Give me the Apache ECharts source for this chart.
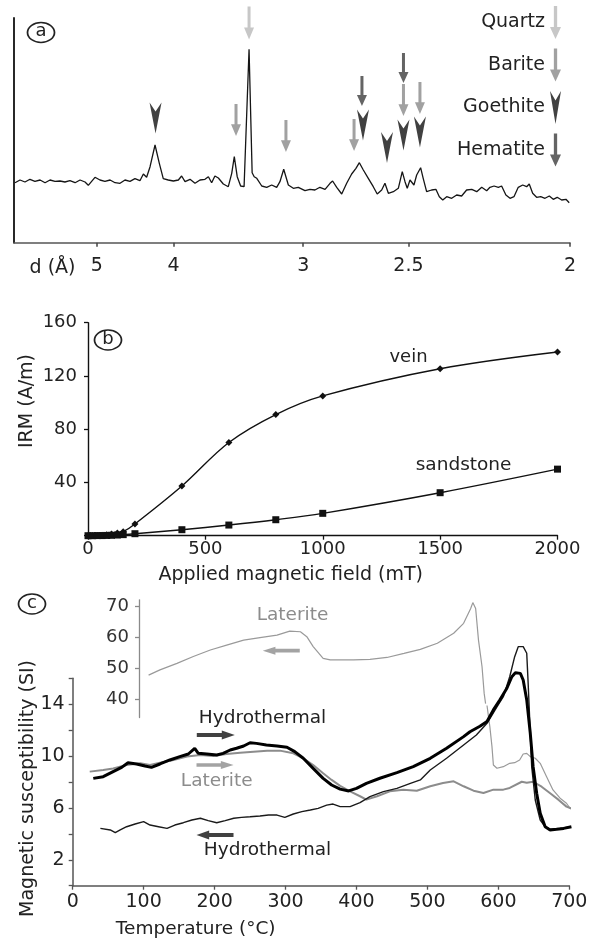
<!DOCTYPE html>
<html><head><meta charset="utf-8">
<script src="https://cdn.jsdelivr.net/npm/echarts@6/dist/echarts.min.js"></script>
<style>html,body{margin:0;padding:0;background:#fff}#c{width:594px;height:943px}</style>
</head><body><div id="c"></div>
<script>
// ---------------- (a) XRD pattern (x in 2-theta, Cu K-alpha; labels in d-spacing) ----------------
const xrdTwoTheta = [12.96,13.25,13.54,13.83,14.12,14.42,14.71,15.00,15.29,15.58,15.87,16.16,16.46,16.75,17.04,17.23,17.62,17.91,18.20,18.50,18.79,19.08,19.37,19.66,19.95,20.24,20.44,20.63,20.83,21.12,21.37,21.60,21.89,22.19,22.48,22.67,22.87,23.16,23.45,23.74,24.03,24.23,24.42,24.61,24.81,25.10,25.39,25.59,25.74,25.91,26.11,26.31,26.60,26.78,26.90,27.05,27.34,27.63,27.92,28.21,28.40,28.62,28.89,29.18,29.47,29.57,29.86,30.15,30.44,30.73,31.03,31.32,31.47,31.71,32.00,32.29,32.58,32.83,33.03,33.26,33.55,33.84,34.07,34.33,34.52,34.72,35.01,35.30,35.53,35.69,35.82,35.98,36.21,36.37,36.60,36.75,36.95,37.24,37.49,37.69,37.89,38.12,38.41,38.70,38.99,39.28,39.58,39.87,40.16,40.45,40.64,40.88,41.13,41.32,41.57,41.81,42.04,42.29,42.55,42.78,42.93,43.13,43.36,43.60,43.85,44.10,44.33,44.56,44.82,45.07,45.26];
const xrdCounts = [60.0,62.7,60.7,63.4,61.4,62.7,60.0,62.7,61.4,61.7,60.7,62.0,60.0,62.7,60.7,57.4,65.4,62.7,61.4,62.7,60.0,59.4,62.7,61.4,64.0,62.0,68.7,65.4,76.0,97.7,79.4,64.0,62.7,61.7,62.7,66.7,61.0,63.4,59.4,62.7,63.4,66.0,60.0,66.7,64.7,58.7,56.0,69.4,86.0,66.0,56.7,56.0,193.4,70.0,66.0,64.4,56.7,55.4,57.7,55.4,61.0,73.4,57.7,54.4,55.4,54.4,52.0,53.4,52.7,55.4,53.4,59.4,61.7,55.4,48.7,59.4,68.7,74.4,80.0,72.7,64.4,56.0,48.7,52.7,59.4,49.4,51.0,54.4,71.0,61.0,54.4,62.7,57.7,67.7,75.0,64.4,51.0,52.7,53.4,46.0,42.7,46.0,44.4,47.7,46.7,52.7,53.4,51.0,55.4,52.0,55.4,56.7,55.4,56.7,47.7,44.4,46.0,55.4,57.7,56.0,58.7,49.4,45.4,46.0,44.4,46.7,43.4,45.4,42.7,43.4,40.0];
const dSpacingTicks = [5, 4, 3, 2.5, 2];
const cuKalpha = 1.5406;
// peak markers [2theta, marker height (counts)]
const quartzMarks   = [[26.60, 219.7]];
const bariteMarks   = [[25.84, 122.7], [28.75, 106.7], [32.72, 107.7], [35.60, 142.7], [36.56, 144.7]];
const goethiteMarks = [[21.15, 124.7], [33.24, 117.7], [34.64, 95.2], [35.60, 107.7], [36.56, 110.7]];
const hematiteMarks = [[33.18, 151.7], [35.60, 174.7]];

// ---------------- (b) IRM acquisition ----------------
const fieldMT      = [0, 20, 40, 60, 80, 100, 125, 150, 200, 400, 600, 800, 1000, 1500, 2000];
const veinIRM      = [0, 0.1, 0.2, 0.4, 0.7, 1.2, 2.0, 3.0, 8.8, 37.3, 70, 91, 105, 125.4, 138];
const sandstoneIRM = [0, 0, 0.1, 0.1, 0.2, 0.3, 0.5, 0.8, 1.5, 4.5, 8.0, 12.0, 16.8, 32.3, 50];

// ---------------- (c) susceptibility vs temperature ----------------
const hydroHeatT = [29,43,57,69,78,90,102,111,123,137,151,163,172,177,189,203,212,222,231,241,250,259,273,288,302,313,325,339,353,365,377,389,400,414,433,457,480,504,527,551,560,574,584,593,602,612,619,624,631,635,640,645,649,654,659,666,673,682,692,703];
const hydroHeatV = [8.28,8.41,8.80,9.13,9.49,9.39,9.23,9.13,9.39,9.70,9.96,10.16,10.60,10.21,10.16,10.08,10.21,10.47,10.60,10.78,11.03,10.98,10.86,10.78,10.68,10.34,9.83,9.05,8.28,7.77,7.45,7.31,7.51,7.90,8.29,8.72,9.19,9.83,10.60,11.50,11.88,12.30,12.66,13.56,14.33,15.23,16.12,16.43,16.38,15.87,14.33,11.76,9.18,7.13,5.58,4.55,4.30,4.35,4.42,4.55];
const hydroCoolT = [39,53,60,67,76,88,100,109,121,133,144,156,168,180,191,203,215,227,238,250,264,276,288,299,311,323,335,346,358,367,377,391,405,419,438,457,476,490,504,527,551,569,584,598,607,616,623,628,635,640,642,645,647,652,659,666,673,687,703];
const hydroCoolV = [4.42,4.30,4.09,4.30,4.55,4.76,4.94,4.68,4.55,4.42,4.68,4.86,5.07,5.20,5.02,4.86,5.02,5.20,5.27,5.32,5.38,5.45,5.45,5.27,5.53,5.71,5.84,5.97,6.22,6.30,6.10,6.10,6.41,6.87,7.26,7.51,7.90,8.16,8.93,9.83,10.86,11.63,12.53,13.80,14.58,16.12,17.67,18.44,18.44,17.93,15.61,11.76,9.18,6.61,5.07,4.55,4.35,4.42,4.55];
const latHeatT = [24,43,57,76,95,109,123,142,161,180,198,217,236,255,274,292,311,325,339,353,365,377,391,405,414,429,447,466,485,504,522,537,551,565,579,593,607,616,633,640,649,661,673,685,696,703];
const latHeatV = [8.80,8.92,9.05,9.31,9.44,9.31,9.49,9.70,9.96,10.08,10.00,10.16,10.26,10.34,10.42,10.42,10.21,9.83,9.31,8.67,8.16,7.70,7.28,6.90,6.64,6.90,7.28,7.41,7.33,7.67,7.92,8.05,7.67,7.33,7.15,7.41,7.41,7.54,8.02,7.95,8.02,7.64,7.13,6.62,6.10,5.95];
// laterite cooling: upper part on the inset scale, lower part on the main scale
const latCoolInsetT = [107,123,147,170,194,217,241,264,288,306,321,330,339,353,363,377,396,419,443,467,490,514,537,551,561,564,568,572,577,580,582];
const latCoolInsetV = [47.7,49.4,51.5,53.7,55.8,57.4,59.0,59.8,60.6,61.9,61.7,60.1,56.9,53.1,52.6,52.6,52.6,52.8,53.4,54.7,56.0,58.0,61.2,64.4,69.2,71.1,69.2,59.0,50.4,41.8,38.5];
const latCoolMainT = [584,588,591,593,598,607,616,623,630,635,640,645,652,659,668,677,687,696,701];
const latCoolMainV = [13.9,12.27,10.73,9.31,9.06,9.18,9.44,9.49,9.70,10.16,10.21,9.96,9.83,9.44,8.41,7.39,6.75,6.36,5.97];
// direction-arrow anchors [T, value]
const arrowHydroHeat = [[201.7, 11.63]];
const arrowLatHeat   = [[200.6, 9.31]];
const arrowHydroCool = [[200.6, 3.92]];
const arrowLatCool   = [[294, 55.6]];

const mainTicks = [2, 6, 10, 14];
const insetTicks = [40, 50, 60, 70];

// ---------------------------------------------------------------------------
const FONT = '"DejaVu Sans", Verdana, sans-serif';
const zip = (a, b) => a.map((v, i) => [v, b[i]]);
const twoThetaOf = d => 2 * Math.asin(cuKalpha / (2 * d)) * 180 / Math.PI;
const dTickPos = dSpacingTicks.map(twoThetaOf);
const xrdMax = Math.max.apply(null, dTickPos);

const ARROW_DOWN = 'path://M3.5,0 L6.5,0 L6.5,21 L10,21 L5,33 L0,21 L3.5,21 Z';
const DART_DOWN  = 'path://M0,0 L5.5,9 L11,0 L5.5,31 Z';
const ARROW_RIGHT = 'path://M0,2.5 L25,2.5 L25,0 L38,4.5 L25,9 L25,6.5 L0,6.5 Z';
const ARROW_LEFT  = 'path://M38,2.5 L13,2.5 L13,0 L0,4.5 L13,9 L13,6.5 L38,6.5 Z';

const C_QUARTZ = '#b9b9b9', C_BARITE = '#8a8a8a', C_GOETHITE = '#111111', C_HEMATITE = '#3d3d3d';
const C_GREY_TEXT = '#8c8c8c';

const chart = echarts.init(document.getElementById('c'), null, {renderer: 'canvas', width: 594, height: 943});

function lbl(size, extra) { return Object.assign({fontSize: size, fontFamily: FONT, color: '#222'}, extra || {}); }

function txt(x, y, text, size, color, rot) {
  return {type: 'text', x: x, y: y, rotation: rot || 0, silent: true,
    style: {text: text, fontSize: size, fontFamily: FONT, fill: color || '#222',
      align: 'center', verticalAlign: 'middle', textAlign: 'center', textVerticalAlign: 'middle'}};
}
function circled(x, y, letter) {
  return [
    {type: 'circle', x: x, y: y, scaleX: 1.35, shape: {cx: 0, cy: 0, r: 10}, silent: true,
      style: {fill: 'none', stroke: '#222', lineWidth: 1.3}},
    txt(x, y - 1, letter, 18, '#222')
  ];
}

const option = {
  animation: false,
  backgroundColor: '#fff',
  grid: [
    {left: 14, top: 18, width: 556, height: 224.7, outerBoundsMode: 'none'},
    {left: 88, top: 322.7, width: 469.5, height: 213, outerBoundsMode: 'none'},
    {left: 72.7, top: 678.3, width: 496.6, height: 207.4, outerBoundsMode: 'none'},
    {left: 139, top: 599.8, width: 430.3, height: 117.8, outerBoundsMode: 'none'}
  ],
  legend: {
    data: [
      {name: 'Quartz', icon: ARROW_DOWN},
      {name: 'Barite', icon: ARROW_DOWN},
      {name: 'Goethite', icon: DART_DOWN},
      {name: 'Hematite', icon: ARROW_DOWN}
    ],
    orient: 'vertical', align: 'right', right: 33, top: 6, padding: 0,
    itemWidth: 11, itemHeight: 33, itemGap: 9.5, selectedMode: false, symbolKeepAspect: false,
    textStyle: {fontSize: 19, fontFamily: FONT, color: '#222', padding: [0, 0, 0, 0]}
  },
  xAxis: [
    {gridIndex: 0, type: 'value', min: 12.90, max: xrdMax,
      axisLine: {show: true, lineStyle: {color: '#555', width: 1.5}},
      axisTick: {show: true, customValues: dTickPos, length: 4, lineStyle: {color: '#444', width: 1.5}},
      axisLabel: lbl(19, {customValues: dTickPos, margin: 14, showMaxLabel: true,
        formatter: v => { const i = dTickPos.findIndex(p => Math.abs(p - v) < 0.01); return i >= 0 ? String(dSpacingTicks[i]) : ''; }}),
      splitLine: {show: false}},
    {gridIndex: 1, type: 'value', min: 0, max: 2000, interval: 500,
      axisLine: {show: true, onZero: false, lineStyle: {color: '#111', width: 1.4}},
      axisTick: {show: true, length: 4, lineStyle: {color: '#111', width: 1.3}},
      axisLabel: lbl(18, {margin: 5, formatter: v => String(v)}), splitLine: {show: false}},
    {gridIndex: 2, type: 'value', min: 0, max: 700, interval: 100,
      axisLine: {show: true, onZero: false, lineStyle: {color: '#555', width: 1.5}},
      axisTick: {show: true, length: 4, lineStyle: {color: '#555', width: 1.3}},
      axisLabel: lbl(19, {margin: 7, formatter: v => String(v)}), splitLine: {show: false}},
    {gridIndex: 3, type: 'value', min: 93.46, max: 700, show: false}
  ],
  yAxis: [
    {gridIndex: 0, type: 'value', min: 0, max: 224.7,
      axisLine: {show: true, lineStyle: {color: '#111', width: 1.8}},
      axisTick: {show: false}, axisLabel: {show: false}, splitLine: {show: false}},
    {gridIndex: 1, type: 'value', min: 0, max: 160, interval: 40,
      axisLine: {show: true, onZero: false, lineStyle: {color: '#111', width: 1.4}},
      axisTick: {show: true, length: 4, lineStyle: {color: '#111', width: 1.3}},
      axisLabel: lbl(18, {margin: 11, formatter: v => v === 0 ? '' : String(v)}), splitLine: {show: false}},
    {gridIndex: 2, type: 'value', min: 0, max: 16, interval: 2,
      axisLine: {show: true, onZero: false, lineStyle: {color: '#555', width: 1.5}},
      axisTick: {show: true, length: 4, lineStyle: {color: '#555', width: 1.3}},
      axisLabel: lbl(19, {margin: 8, formatter: v => mainTicks.indexOf(v) >= 0 ? String(v) : ''}), splitLine: {show: false}},
    {gridIndex: 3, type: 'value', min: 34, max: 72,
      axisLine: {show: true, onZero: false, lineStyle: {color: '#8a8a8a', width: 1.3}},
      axisTick: {show: true, customValues: insetTicks, length: 4, lineStyle: {color: '#8a8a8a', width: 1.3}},
      axisLabel: lbl(18, {customValues: insetTicks, margin: 10, color: '#333'}), splitLine: {show: false}}
  ],
  series: [
    // (a)
    {type: 'line', xAxisIndex: 0, yAxisIndex: 0, data: zip(xrdTwoTheta, xrdCounts), symbol: 'none', silent: true,
      lineStyle: {color: '#151515', width: 1.3}},
    {name: 'Quartz', type: 'scatter', xAxisIndex: 0, yAxisIndex: 0, data: quartzMarks, symbol: ARROW_DOWN, symbolSize: [10, 33], silent: true, clip: false,
      itemStyle: {color: C_QUARTZ}},
    {name: 'Barite', type: 'scatter', xAxisIndex: 0, yAxisIndex: 0, data: bariteMarks, symbol: ARROW_DOWN, symbolSize: [10, 32], silent: true,
      itemStyle: {color: C_BARITE}},
    {name: 'Goethite', type: 'scatter', xAxisIndex: 0, yAxisIndex: 0, data: goethiteMarks, symbol: DART_DOWN, symbolSize: [12, 31], silent: true,
      itemStyle: {color: C_GOETHITE}},
    {name: 'Hematite', type: 'scatter', xAxisIndex: 0, yAxisIndex: 0, data: hematiteMarks, symbol: ARROW_DOWN, symbolSize: [10, 30], silent: true,
      itemStyle: {color: C_HEMATITE}},
    // (b)
    {name: 'vein', type: 'line', xAxisIndex: 1, yAxisIndex: 1, data: zip(fieldMT, veinIRM), smooth: 0.35, symbol: 'diamond', symbolSize: 7,
      lineStyle: {color: '#111', width: 1.4}, itemStyle: {color: '#111'}, silent: true},
    {name: 'sandstone', type: 'line', xAxisIndex: 1, yAxisIndex: 1, data: zip(fieldMT, sandstoneIRM), smooth: 0.35, symbol: 'rect', symbolSize: 7,
      lineStyle: {color: '#111', width: 1.4}, itemStyle: {color: '#111'}, silent: true},
    // (c)
    {type: 'line', xAxisIndex: 3, yAxisIndex: 3, data: zip(latCoolInsetT, latCoolInsetV), symbol: 'none', silent: true, clip: false,
      lineStyle: {color: '#9a9a9a', width: 1.2}},
    {type: 'line', xAxisIndex: 2, yAxisIndex: 2, data: zip(latCoolMainT, latCoolMainV), symbol: 'none', silent: true, clip: false,
      lineStyle: {color: '#9a9a9a', width: 1.2}},
    {type: 'line', xAxisIndex: 2, yAxisIndex: 2, data: zip(latHeatT, latHeatV), symbol: 'none', silent: true, clip: false,
      lineStyle: {color: '#8c8c8c', width: 2}},
    {type: 'line', xAxisIndex: 2, yAxisIndex: 2, data: zip(hydroCoolT, hydroCoolV), symbol: 'none', silent: true, clip: false,
      lineStyle: {color: '#1a1a1a', width: 1.4}},
    {type: 'line', xAxisIndex: 2, yAxisIndex: 2, data: zip(hydroHeatT, hydroHeatV), symbol: 'none', silent: true, clip: false,
      lineStyle: {color: '#000', width: 3}},
    {type: 'scatter', xAxisIndex: 2, yAxisIndex: 2, data: arrowHydroHeat, symbol: ARROW_RIGHT, symbolSize: [38, 9], silent: true, itemStyle: {color: '#111'}},
    {type: 'scatter', xAxisIndex: 2, yAxisIndex: 2, data: arrowLatHeat, symbol: ARROW_RIGHT, symbolSize: [37, 8], silent: true, itemStyle: {color: '#8c8c8c'}},
    {type: 'scatter', xAxisIndex: 2, yAxisIndex: 2, data: arrowHydroCool, symbol: ARROW_LEFT, symbolSize: [37, 9], silent: true, itemStyle: {color: '#111'}},
    {type: 'scatter', xAxisIndex: 3, yAxisIndex: 3, data: arrowLatCool, symbol: ARROW_LEFT, symbolSize: [37, 8], silent: true, itemStyle: {color: '#8c8c8c'}}
  ],
  graphic: [].concat(
    circled(41, 32.5, 'a'),
    circled(108, 340, 'b'),
    circled(32, 604, 'c'),
    [
      txt(52.5, 268, 'd (Å)', 19),
      txt(27.5, 401, 'IRM (A/m)', 19, '#222', Math.PI / 2),
      txt(408.5, 357, 'vein', 18),
      txt(463.6, 465.5, 'sandstone', 18.5),
      txt(290.7, 575, 'Applied magnetic field (mT)', 19),
      txt(27.6, 788.5, 'Magnetic susceptibility (SI)', 19, '#222', Math.PI / 2),
      txt(195.7, 929, 'Temperature (°C)', 18.5),
      txt(292.5, 615, 'Laterite', 18.5, C_GREY_TEXT),
      txt(262.5, 718, 'Hydrothermal', 18.5),
      txt(216.7, 781.5, 'Laterite', 18.5, C_GREY_TEXT),
      txt(267.5, 850, 'Hydrothermal', 18.5)
    ]
  )
};
chart.setOption(option);
</script>
</body></html>
